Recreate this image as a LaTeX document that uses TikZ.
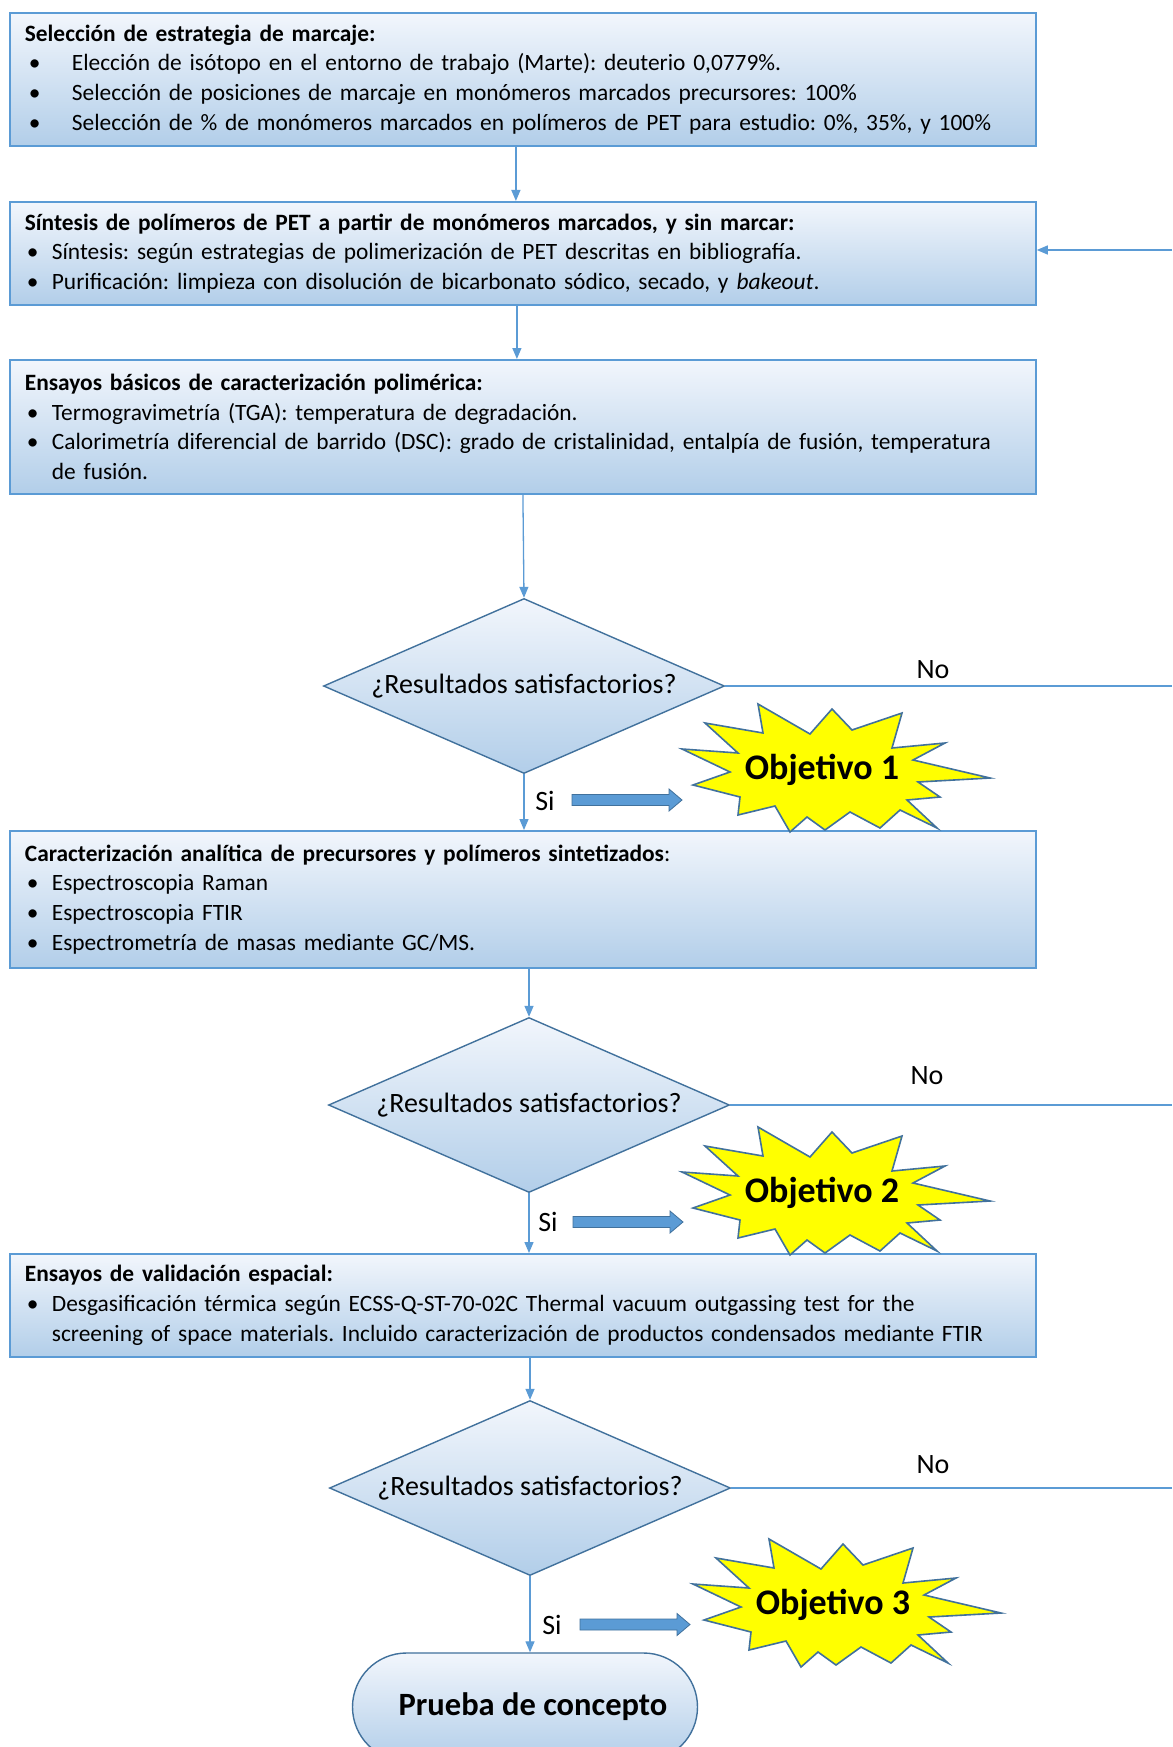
\documentclass[tikz,border=0pt]{standalone}
\usepackage{fontspec}
\setmainfont{Carlito}
\usetikzlibrary{shapes.geometric,arrows.meta,calc}
\frenchspacing

\definecolor{lnblue}{HTML}{5B9BD5}
\definecolor{dkblue}{HTML}{41719C}
\definecolor{gtop}{HTML}{F2F6FC}
\definecolor{gbot}{HTML}{B2CEE9}
\definecolor{staryellow}{HTML}{FFFF00}

\newcommand\boxfont{\fontsize{23.4}{29.7}\selectfont}
\newcommand\bul[1]{\makebox[27pt][l]{\hspace{2pt}•}#1}
\newcommand\bulw[1]{\makebox[47pt][l]{\hspace{4pt}•}#1}

\newcommand\explosion[1]{%
  \draw[starsty, shift={#1}] (-140,21) -- (-92,-2) -- (-129,-15) -- (-82,-27) -- (-84,-45)
   -- (-47,-36) -- (-32,-62) -- (-15,-47) -- (3,-60) -- (28,-42) -- (58,-58) -- (78,-40)
   -- (115,-58) -- (85,-30) -- (118,-27) -- (96,-12) -- (168,-8) -- (91,10) -- (123,27)
   -- (70,22) -- (80,57) -- (30,40) -- (10,61) -- (-12,36) -- (-64,66) -- (-59,37)
   -- (-117,47) -- (-84,17) -- cycle;}
\newcommand\blockarrow[1]{%
  \draw[blockarr, shift={#1}] (0,-5.5) -- (97,-5.5) -- (97,-11) -- (110,0) -- (97,11)
   -- (97,5.5) -- (0,5.5) -- cycle;}

\tikzset{
  stepbox/.style={draw=lnblue, line width=1.8pt, top color=gtop, bottom color=gbot,
    minimum width=1026pt, text width=996pt, inner xsep=15pt, inner ysep=0pt,
    align=left, anchor=north west, font=\boxfont},
  decision/.style={diamond, draw=dkblue, line width=1.4pt, top color=gtop, bottom color=gbot,
    minimum width=401pt, minimum height=175pt, inner sep=0pt, aspect=2.3,
    font=\fontsize{28}{30}\selectfont},
  termsty/.style={rectangle, rounded corners=54pt, draw=dkblue, line width=1.4pt,
    top color=gtop, bottom color=gbot, minimum width=345pt, minimum height=108pt,
    font=\bfseries\fontsize{32.5}{34}\selectfont},
  conn/.style={draw=lnblue, line width=1.3pt, -{Triangle[length=11pt,width=9pt]}},
  plainline/.style={draw=lnblue, line width=1.3pt},
  lbl/.style={inner sep=0pt, font=\fontsize{28}{30}\selectfont},
  objtext/.style={inner sep=0pt, font=\bfseries\fontsize{36}{38}\selectfont},
  starsty/.style={draw=dkblue, line width=1.6pt, fill=staryellow, line join=miter},
  blockarr/.style={draw=dkblue, line width=0.8pt, fill=lnblue},
}

\begin{document}
\begin{tikzpicture}[x=1pt,y=1pt]
\useasboundingbox (0,0) rectangle (1172,-1747);
\clip (0,0) rectangle (1172,-1747);
\fill[white] (0,0) rectangle (1172,-1747);

% boxes
\node[stepbox, minimum height=133pt] (b1) at (9,-12) {%
\textbf{Selección de estrategia de marcaje:}\\
\bulw{Elección de isótopo en el entorno de trabajo (Marte): deuterio 0,0779\%.}\\
\bulw{Selección de posiciones de marcaje en monómeros marcados precursores: 100\%}\\
\bulw{Selección de \% de monómeros marcados en polímeros de PET para estudio: 0\%, 35\%, y 100\%}};

\node[stepbox, minimum height=103pt] (b2) at (9,-201) {%
\textbf{Síntesis de polímeros de PET a partir de monómeros marcados, y sin marcar:}\\
\bul{Síntesis: según estrategias de polimerización de PET descritas en bibliografía.}\\
\bul{Purificación: limpieza con disolución de bicarbonato sódico, secado, y \textit{bakeout}.}};

\node[stepbox, minimum height=134pt] (b3) at (9,-359) {%
\textbf{Ensayos básicos de caracterización polimérica:}\\
\bul{Termogravimetría (TGA): temperatura de degradación.}\\
\bul{Calorimetría diferencial de barrido (DSC): grado de cristalinidad, entalpía de fusión, temperatura}\\
\hspace*{27pt}de fusión.};

\node[decision] (d1) at (524,-686) {¿Resultados satisfactorios?};

\node[stepbox, minimum height=137pt] (b4) at (9,-830) {%
\textbf{Caracterización analítica de precursores y polímeros sintetizados}:\\
\bul{Espectroscopia Raman}\\
\bul{Espectroscopia FTIR}\\
\bul{Espectrometría de masas mediante GC/MS.}};

\node[decision] (d2) at (529,-1105) {¿Resultados satisfactorios?};

\node[stepbox, minimum height=103pt] (b5) at (9,-1253) {%
\textbf{Ensayos de validación espacial:}\\
\bul{Desgasificación térmica según ECSS-Q-ST-70-02C Thermal vacuum outgassing test for the}\\
\hspace*{27pt}screening of space materials. Incluido caracterización de productos condensados mediante FTIR};

\node[decision] (d3) at (530,-1488) {¿Resultados satisfactorios?};

\node[termsty] (term) at (525,-1707) {\hspace*{16pt}Prueba de concepto};

% connectors
\draw[conn] ([xshift=-7pt]b1.south) -- ([xshift=-7pt]b2.north);
\draw[conn] ([xshift=-6pt]b2.south) -- ([xshift=-6pt]b3.north);
\draw[conn] (b3.south) -- (d1.north);
\draw[conn] (d1.south) -- (d1.south |- b4.north);
\draw[conn] (d2.north |- b4.south) -- (d2.north);
\draw[conn] (d2.south) -- (d2.south |- b5.north);
\draw[conn] (d3.north |- b5.south) -- (d3.north);
\draw[conn] (d3.south) -- (d3.south |- term.north);

\coordinate (e0) at (1172,-250);
\coordinate (e1) at (1172,-686);
\coordinate (e2) at (1172,-1105);
\coordinate (e3) at (1172,-1488);
\draw[conn] (e0) -- (e0 -| b2.east);
\draw[plainline] (d1.east) -- (e1);
\draw[plainline] (d2.east) -- (e2);
\draw[plainline] (d3.east) -- (e3);

% labels
\node[lbl] (no1) at (933,-670) {No};
\node[lbl] (no2) at (927,-1076) {No};
\node[lbl] (no3) at (933,-1465) {No};
\node[lbl] (si1) at (545,-801) {Si};
\node[lbl] (si2) at (548,-1222) {Si};
\node[lbl] (si3) at (552,-1625) {Si};

% block arrows
\blockarrow{(572,-800)}
\blockarrow{(573,-1222)}
\blockarrow{(580,-1624.5)}

% stars
\explosion{(822,-770)}
\explosion{(822,-1193)}
\explosion{(833,-1605)}
\node[objtext] (o1) at (822,-770) {Objetivo 1};
\node[objtext] (o2) at (822,-1193) {Objetivo 2};
\node[objtext] (o3) at (833,-1605) {Objetivo 3};
\end{tikzpicture}
\end{document}
